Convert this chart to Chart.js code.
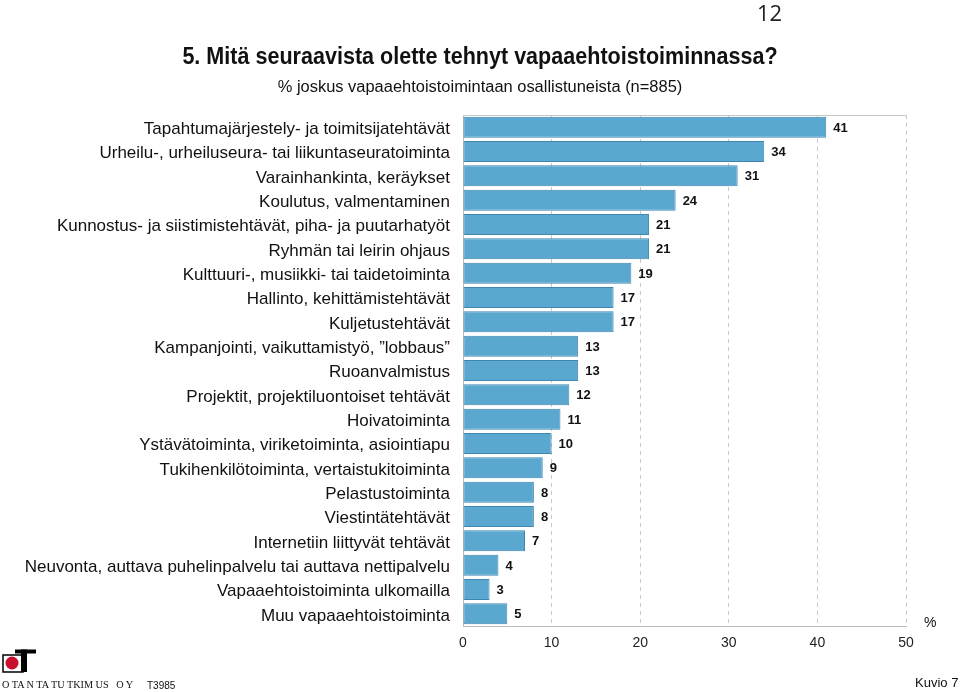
<!DOCTYPE html>
<html><head><meta charset="utf-8">
<script src="https://cdn.jsdelivr.net/npm/chart.js@4/dist/chart.umd.min.js"></script>
<style>
html,body{margin:0;padding:0;background:#fff;width:960px;height:692px;overflow:hidden;font-family:"Liberation Sans",Arial,sans-serif;}
#wrap{position:absolute;left:0;top:0;width:960px;height:692px;}
.t{position:absolute;white-space:nowrap;color:#111;}
</style></head><body>
<div id="wrap"><canvas id="c" width="960" height="692"></canvas></div>
<div class="t" id="pg" style="left:757px;top:-3px;font-family:'Open Sans','DejaVu Sans',sans-serif;font-size:22px;color:#222;">12</div>
<div class="t" id="title" style="left:480px;top:43px;font-size:23px;font-weight:bold;transform-origin:center;">5. Mitä seuraavista olette tehnyt vapaaehtoistoiminnassa?</div>
<div class="t" id="sub" style="left:480px;top:78px;font-size:16px;">% joskus vapaaehtoistoimintaan osallistuneista (n=885)</div>
<div class="t" style="left:924px;top:614px;font-size:14px;">%</div>
<div class="t" style="left:915px;top:675px;font-size:13px;">Kuvio 7</div>
<div class="t" id="ot" style="left:2px;top:678px;font-family:'Liberation Serif',serif;font-size:11px;">O TA N TA TU TKIM US&nbsp;&nbsp; O Y</div>
<div class="t" style="left:147px;top:680px;font-size:10px;">T3985</div>
<svg style="position:absolute;left:1px;top:648px" width="38" height="26">
<rect x="2" y="7" width="20" height="17" fill="#fff" stroke="#000" stroke-width="1.5"/>
<circle cx="11" cy="15" r="6.5" fill="#c8102e"/>
<rect x="14" y="1.5" width="21" height="4" fill="#000"/>
<rect x="20" y="1.5" width="6" height="22.5" fill="#000"/>
</svg>
<script>
const categories = [
 "Tapahtumajärjestely- ja toimitsijatehtävät",
 "Urheilu-, urheiluseura- tai liikuntaseuratoiminta",
 "Varainhankinta, keräykset",
 "Koulutus, valmentaminen",
 "Kunnostus- ja siistimistehtävät, piha- ja puutarhatyöt",
 "Ryhmän tai leirin ohjaus",
 "Kulttuuri-, musiikki- tai taidetoiminta",
 "Hallinto, kehittämistehtävät",
 "Kuljetustehtävät",
 "Kampanjointi, vaikuttamistyö, ”lobbaus”",
 "Ruoanvalmistus",
 "Projektit, projektiluontoiset tehtävät",
 "Hoivatoiminta",
 "Ystävätoiminta, viriketoiminta, asiointiapu",
 "Tukihenkilötoiminta, vertaistukitoiminta",
 "Pelastustoiminta",
 "Viestintätehtävät",
 "Internetiin liittyvät tehtävät",
 "Neuvonta, auttava puhelinpalvelu tai auttava nettipalvelu",
 "Vapaaehtoistoiminta ulkomailla",
 "Muu vapaaehtoistoiminta"
];
const values = [41,34,31,24,21,21,19,17,17,13,13,12,11,10,9,8,8,7,4,3,5];
const xTicks = [0,10,20,30,40,50];

function fit(id, w){const e=document.getElementById(id);const r=e.offsetWidth;e.style.transform='translateX(-50%) scaleX('+(w/r)+')';e.style.transformOrigin='center';}
fit('title',595); fit('sub',405);
(function(){const e=document.getElementById('ot');const r=e.offsetWidth;e.style.transformOrigin='left center';e.style.transform='scaleX('+(131/r)+')';})();

const valueLabels = {
 id:'valueLabels',
 afterDatasetsDraw(chart){
  const ctx=chart.ctx; const meta=chart.getDatasetMeta(0);
  ctx.save(); ctx.font='bold 13px "Liberation Sans", Arial, sans-serif'; ctx.fillStyle='#111';
  ctx.textBaseline='middle'; ctx.textAlign='left';
  meta.data.forEach((b,i)=>{ctx.fillText(String(values[i]), b.x+7, b.y+1);});
  ctx.restore();
 }
};
const topLine = {
 id:'topLine',
 beforeDatasetsDraw(chart){
  const a=chart.chartArea, ctx=chart.ctx;
  ctx.save(); ctx.strokeStyle='#c8c8c8'; ctx.lineWidth=1;
  ctx.beginPath(); ctx.moveTo(a.left,a.top+0.5); ctx.lineTo(a.right,a.top+0.5); ctx.stroke();
  ctx.restore();
 }
};

new Chart(document.getElementById('c'),{
 type:'bar',
 data:{labels:categories,datasets:[{data:values,backgroundColor:'#5aa8d0',borderColor:'#3f86b0',borderWidth:1,borderSkipped:false,barPercentage:0.86,categoryPercentage:1}]},
 options:{
  indexAxis:'y', responsive:false, animation:false,
  layout:{padding:{left:0,right:54,top:115,bottom:0}},
  plugins:{legend:{display:false},tooltip:{enabled:false}},
  scales:{
   x:{min:0,max:50,
      afterBuildTicks(s){s.ticks=xTicks.map(v=>({value:v}));},
      afterFit(s){s.height=66;},
      grid:{color:'#c8c8c8',drawTicks:false,tickBorderDash:[4,4]},
      border:{display:true,color:'#bdbdbd',dash:[4,4]},
      ticks:{padding:9,color:'#222',font:{family:'"Liberation Sans", Arial, sans-serif',size:14}}},
   y:{afterFit(s){s.width=463;},
      grid:{display:false,drawTicks:false},
      border:{display:true,color:'#bdbdbd'},
      ticks:{padding:13,labelOffset:2,color:'#111',autoSkip:false,font:{family:'"Liberation Sans", Arial, sans-serif',size:17}}}
  }
 },
 plugins:[topLine,valueLabels]
});
</script>
</body></html>
